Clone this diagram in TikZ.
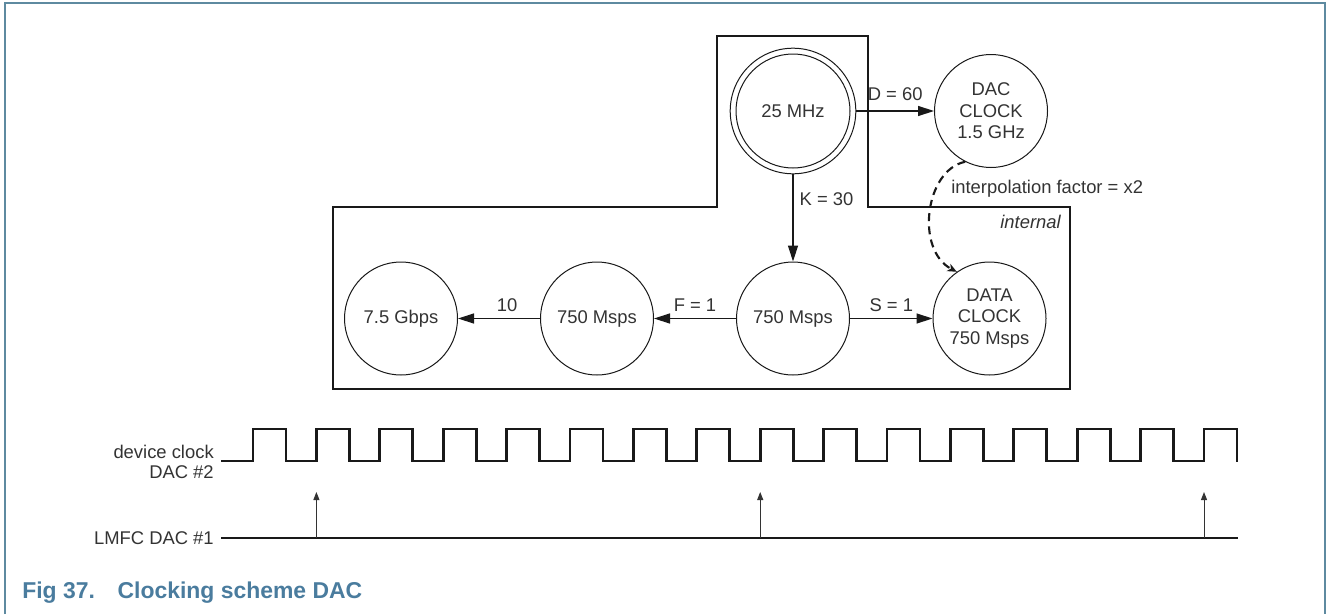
\documentclass[tikz,border=0pt]{standalone}
\usepackage{fontspec}
\setmainfont{Liberation Sans}
\usetikzlibrary{arrows.meta}
\definecolor{txt}{HTML}{333333}
\definecolor{framec}{HTML}{5E8AA0}
\definecolor{capc}{HTML}{4A7C9E}
\begin{document}
\begin{tikzpicture}[x=0.75pt,y=-0.75pt,
  lbl/.style={font=\fontsize{13.8pt}{16.1pt}\selectfont, text=txt, inner sep=0pt},
  state/.style={circle, draw=black!90, line width=0.75pt, minimum size=84.75pt, inner sep=0pt, align=center, lbl},
  flow/.style={line width=1pt, draw=black!90, -{Triangle[length=12pt,width=7.5pt]}},
  dashflow/.style={line width=1.6pt, draw=black!90, dash pattern=on 6pt off 4pt, -{Stealth[length=7pt,width=6pt,inset=2pt]}},
  wave/.style={line width=2pt, draw=black!90, line join=miter},
  lmfcmark/.style={line width=0.75pt, draw=black!80, -{Triangle[length=6pt,width=4.5pt]}},
  zone/.style={line width=1pt, draw=black!90}
]
\useasboundingbox (0,0) rectangle (1327,614);
% outer frame
\draw[framec, line width=1.5pt] (5,614) -- (5,3) -- (1325,3) -- (1325,614);

% zone outline
\draw[zone] (717,36) -- (868,36) -- (868,207) -- (1070,207) -- (1070,389) -- (333,389) -- (333,207) -- (717,207) -- cycle;
\node[lbl, anchor=east, font=\fontsize{13.8pt}{16.1pt}\selectfont\itshape] (internal) at (1061,222) {internal};

% states
\node[state, minimum size=85.5pt] (m25) at (793,111) {25 MHz};
\node[circle, draw=black!90, line width=0.75pt, minimum size=94.2pt, inner sep=0pt] (m25o) at (793,111) {};
\node[state] (dac) at (991,111) {DAC\\CLOCK\\1.5 GHz};
\node[state] (c750m) at (793,318.5) {750 Msps};
\node[state] (c750l) at (597,318.5) {750 Msps};
\node[state] (gbps) at (401,318.5) {7.5 Gbps};
\node[state] (data) at (989.5,318.5) {DATA\\CLOCK\\750 Msps};

% connectors
\draw[flow] (m25o) -- node[lbl, above=7pt] {D = 60} (dac);
\draw[flow] (m25o) -- node[lbl, pos=0.284, right=4.5pt] {K = 30} (c750m);
\draw[flow] (c750m) -- node[lbl, above=4.5pt] {F = 1} (c750l);
\draw[flow] (c750l) -- node[lbl, above=4.5pt, xshift=6pt] {10} (gbps);
\draw[flow] (c750m) -- node[lbl, above=4.5pt] {S = 1} (data);
\draw[dashflow] (dac.-117) .. controls (925,170) and (915,250) .. (data.125);
\node[lbl, anchor=west] (interp) at (951,189) {interpolation factor = x2};

% timing
\node[lbl, anchor=east, align=right, font=\fontsize{13.8pt}{15pt}\selectfont] (devclk) at (214,462) {device clock\\DAC \#2};
\node[lbl, anchor=east] (lmfc) at (214,538) {LMFC DAC \#1};
\coordinate (w0) at (221,461);
\coordinate (l0) at (221,538);
\coordinate (l1) at (1238,538);
\draw[wave] (w0) \foreach \i in {0,...,15} { -- ({253+63.4*\i},461) -- ({253+63.4*\i},429) -- ({286+63.4*\i},429) -- ({286+63.4*\i},461) } -- (1238,461);
\draw[wave] (l0) -- (l1);
\foreach \k/\n in {a/1,b/8,c/15} {
  \coordinate (b\k) at ({253+63.4*\n},538);
  \coordinate (t\k) at ({253+63.4*\n},492);
  \draw[lmfcmark] (b\k) -- (t\k);
}

% caption
\node[anchor=west, inner sep=0pt, text=capc, font=\fontsize{17.2pt}{20pt}\selectfont\bfseries] (cap) at (22,593) {Fig 37.\hspace*{17pt}Clocking scheme DAC};
\end{tikzpicture}
\end{document}
